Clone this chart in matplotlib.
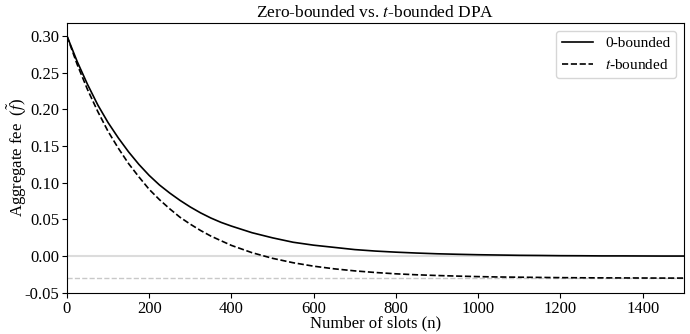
import matplotlib
matplotlib.use("Agg")
import matplotlib.pyplot as plt

plt.rcParams["font.family"] = ["Liberation Serif", "DejaVu Serif"]
plt.rcParams["mathtext.fontset"] = "stix"

# slots (n) and aggregate fee
slots = [0, 25, 50, 75, 100, 125, 150, 175, 200, 225, 250, 275, 300, 325, 350, 375,
         400, 450, 500, 550, 600, 650, 700, 750, 800, 850, 900, 950, 1000, 1050,
         1100, 1150, 1200, 1250, 1300, 1350, 1400, 1450, 1500]
zero_bounded = [0.300, 0.265, 0.234, 0.206, 0.182, 0.161, 0.142, 0.125, 0.110, 0.097,
                0.086, 0.076, 0.067, 0.059, 0.052, 0.046, 0.041, 0.032, 0.025, 0.019,
                0.015, 0.012, 0.009, 0.007, 0.0055, 0.0043, 0.0033, 0.0026, 0.0020,
                0.0016, 0.0012, 0.0010, 0.0007, 0.0006, 0.0004, 0.0004, 0.0003,
                0.0002, 0.0002]
t_bounded = [0.300, 0.261, 0.227, 0.197, 0.170, 0.147, 0.126, 0.108, 0.091, 0.077,
             0.0645, 0.053, 0.0436, 0.035, 0.0274, 0.021, 0.0147, 0.0048, -0.0029,
             -0.0089, -0.0136, -0.0172, -0.0200, -0.0222, -0.0240, -0.0253, -0.0263,
             -0.0271, -0.0278, -0.0283, -0.0286, -0.0289, -0.0292, -0.0294, -0.0295,
             -0.0296, -0.0297, -0.0298, -0.0298]
t_floor = -0.03

fig = plt.figure(figsize=(6.9, 3.34), dpi=100)
ax = fig.add_axes([0.097, 0.123, 0.894, 0.808])

ax.axhline(0, color="#dcdcdc", lw=1.5, zorder=1)
ax.axhline(t_floor, color="#c8c8c8", lw=1, ls="--", zorder=1)
ax.plot(slots, zero_bounded, color="black", lw=1.2, label="0-bounded", zorder=3)
ax.plot(slots, t_bounded, color="black", lw=1.2, ls="--", label="$t$-bounded", zorder=3)

ax.set_xlim(0, 1500)
ax.set_ylim(-0.05, 0.3175)
ax.set_xticks(range(0, 1401, 200))
ax.set_yticks([-0.05, 0.0, 0.05, 0.10, 0.15, 0.20, 0.25, 0.30])
ax.yaxis.set_major_formatter(matplotlib.ticker.FormatStrFormatter("%.2f"))
ax.tick_params(labelsize=12, pad=2)
ax.set_xlabel("Number of slots (n)", fontsize=12)
ax.set_ylabel(r"Aggregate fee  ($\tilde{f}$)", fontsize=12)
ax.xaxis.set_label_coords(0.5, -0.085)
ax.yaxis.set_label_coords(-0.061, 0.5)
ax.set_title("Zero-bounded vs. $t$-bounded DPA", fontsize=12.5, pad=4)
ax.legend(loc="upper right", fontsize=11)

fig.savefig("out.png", dpi=100)
